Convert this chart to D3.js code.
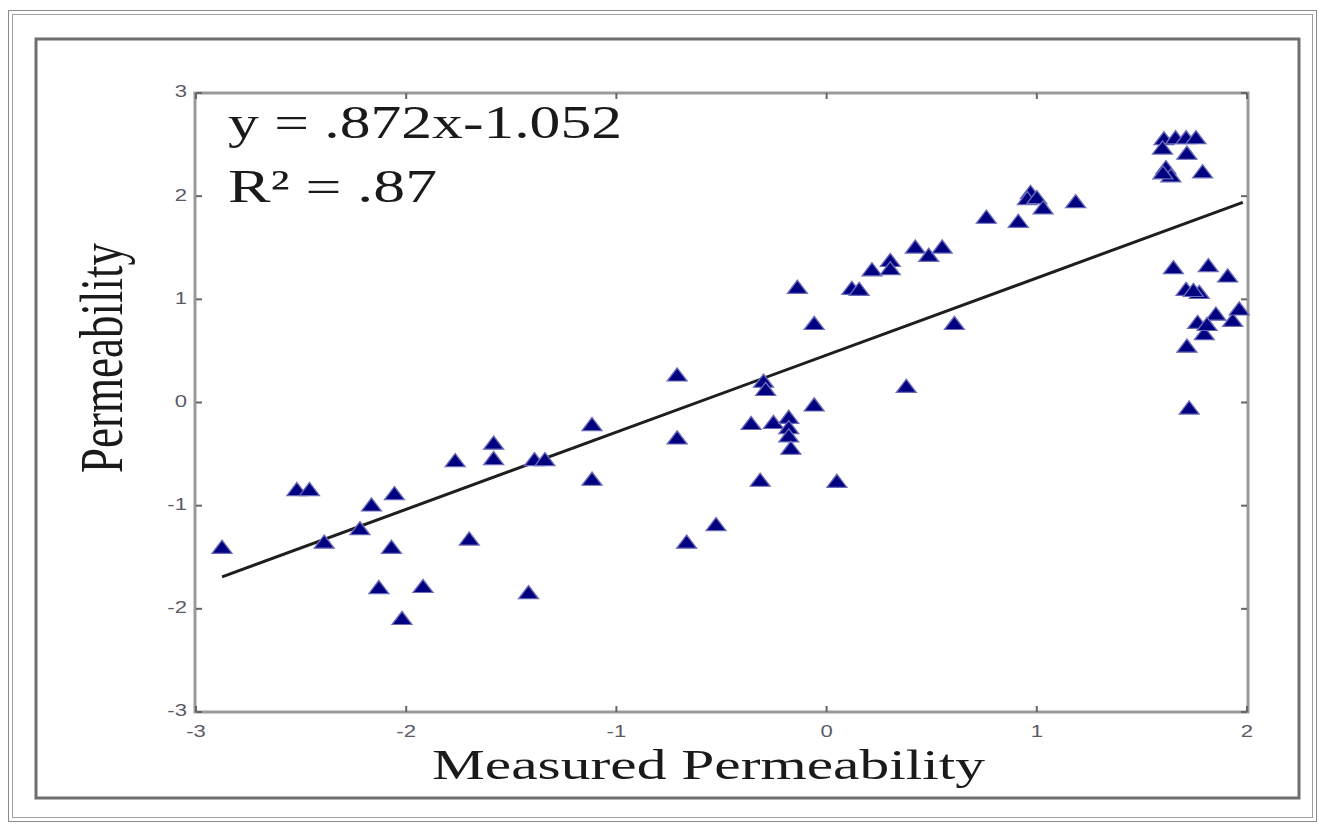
<!DOCTYPE html>
<html><head><meta charset="utf-8">
<script src="https://cdn.jsdelivr.net/npm/d3@7"></script>
<style>html,body{margin:0;padding:0;background:#fff;}svg{display:block;}</style>
</head><body>
<svg id="c" width="1319" height="824"></svg>
<script>
// ---- data ----
const measured = [-2.876,-2.52,-2.46,-2.39,-2.22,-2.165,-2.056,-2.07,-2.13,-1.92,-2.02,-1.767,-1.584,-1.584,-1.70,-1.39,-1.34,-1.418,-1.116,-1.116,
  -0.711,-0.30,-0.29,-0.059,-0.139,0.12,0.155,0.216,0.303,0.303,0.422,0.486,0.55,0.76,0.608,0.379,-0.711,-0.059,-0.359,-0.253,
  -0.18,-0.18,-0.18,-0.17,-0.316,0.049,-0.526,-0.666,0.912,0.97,0.955,1.0,1.03,1.185,
  1.605,1.66,1.71,1.757,1.598,1.714,1.614,1.638,1.60,1.789,
  1.65,1.816,1.908,1.71,1.773,1.745,1.765,1.852,1.932,1.963,1.797,1.714,1.725,1.81];
const predicted = [-1.41,-0.85,-0.85,-1.36,-1.23,-1.00,-0.89,-1.41,-1.80,-1.79,-2.10,-0.57,-0.40,-0.55,-1.33,-0.56,-0.56,-1.85,-0.22,-0.75,
  0.26,0.20,0.12,0.76,1.11,1.10,1.09,1.28,1.37,1.29,1.50,1.42,1.50,1.79,0.76,0.15,-0.35,-0.03,-0.21,-0.20,
  -0.15,-0.25,-0.33,-0.45,-0.76,-0.77,-1.19,-1.36,1.75,2.03,1.97,1.98,1.88,1.94,
  2.55,2.56,2.56,2.56,2.46,2.41,2.27,2.19,2.22,2.23,
  1.30,1.32,1.22,1.09,1.06,1.08,0.77,0.85,0.79,0.90,0.66,0.54,-0.06,0.75];
const fitX = [-2.876, 1.98];
const fitY = [-1.69, 1.94];
const xTicks = [-3,-2,-1,0,1,2];
const yTicks = [-3,-2,-1,0,1,2,3];
const eqText = "y = .872x-1.052";
const r2Text = "R\u00B2 = .87";
const xTitle = "Measured Permeability";
const yTitle = "Permeability";

// ---- drawing ----
const svg = d3.select("#c");
const x = d3.scaleLinear().domain([-3,2]).range([196,1247]);
const y = d3.scaleLinear().domain([-3,3]).range([712,93]);

// outer double frame
svg.append("rect").attr("x",8.5).attr("y",10.5).attr("width",1308).attr("height",811)
  .attr("fill","none").attr("stroke","#8a8a8a").attr("stroke-width",1);
svg.append("rect").attr("x",12.5).attr("y",14.5).attr("width",1300).attr("height",803)
  .attr("fill","none").attr("stroke","#a0a0a0").attr("stroke-width",1);
// middle frame
svg.append("rect").attr("x",36).attr("y",39).attr("width",1263).attr("height",759)
  .attr("fill","none").attr("stroke","#6e6e6e").attr("stroke-width",3);

// plot box
const [x0,x1] = x.range(), [y0,y1] = [y(3), y(-3)];
svg.append("rect").attr("x",x0-1).attr("y",y0).attr("width",x1-x0+2).attr("height",y1-y0)
  .attr("fill","none").attr("stroke","#9a9a9a").attr("stroke-width",3);

const tk = 6;
// x ticks (bottom & top, inward)
const gx = svg.append("g");
xTicks.forEach(t=>{
  gx.append("line").attr("x1",x(t)).attr("x2",x(t)).attr("y1",y1).attr("y2",y1-tk).attr("stroke","#666").attr("stroke-width",2);
  gx.append("line").attr("x1",x(t)).attr("x2",x(t)).attr("y1",y0).attr("y2",y0+tk).attr("stroke","#666").attr("stroke-width",2);
  gx.append("text").attr("transform",`translate(${x(t)},${733}) scale(1.3,1)`)
    .attr("text-anchor","middle").attr("dominant-baseline","middle")
    .attr("font-family","Liberation Sans, Arial, sans-serif").attr("font-size",17).attr("fill","#5a5a66")
    .text(t);
});
const gy = svg.append("g");
yTicks.forEach(t=>{
  gy.append("line").attr("x1",x0).attr("x2",x0+tk).attr("y1",y(t)).attr("y2",y(t)).attr("stroke","#666").attr("stroke-width",2);
  gy.append("line").attr("x1",x1).attr("x2",x1-tk).attr("y1",y(t)).attr("y2",y(t)).attr("stroke","#666").attr("stroke-width",2);
  gy.append("text").attr("transform",`translate(${187},${y(t)}) scale(1.3,1)`)
    .attr("text-anchor","end").attr("dominant-baseline","middle")
    .attr("font-family","Liberation Sans, Arial, sans-serif").attr("font-size",17).attr("fill","#5a5a66")
    .text(t);
});

// regression line
svg.append("line").attr("x1",x(fitX[0])).attr("y1",y(fitY[0])).attr("x2",x(fitX[1])).attr("y2",y(fitY[1]))
  .attr("stroke","#1e1e1e").attr("stroke-width",3);

// points (triangles)
const tri = d3.symbol().type(d3.symbolTriangle).size(110);
svg.append("g").selectAll("path").data(measured.map((m,i)=>[m,predicted[i]])).join("path")
  .attr("d", tri)
  .attr("transform", d=>`translate(${x(d[0])},${y(d[1])+1}) scale(1.25,0.95)`)
  .attr("fill","#000080").attr("stroke","#6a6ab8").attr("stroke-width",1.2);

// equation texts
svg.append("text").attr("x",228).attr("y",138).attr("font-family","Liberation Serif, Times New Roman, serif")
  .attr("font-size",46).attr("fill","#1a1a1a").attr("textLength",394).attr("lengthAdjust","spacingAndGlyphs").text(eqText);
svg.append("text").attr("x",228).attr("y",202).attr("font-family","Liberation Serif, Times New Roman, serif")
  .attr("font-size",46).attr("fill","#1a1a1a").attr("textLength",209).attr("lengthAdjust","spacingAndGlyphs").text(r2Text);

// axis titles
svg.append("text").attr("x",432).attr("y",779).attr("font-family","Liberation Serif, Times New Roman, serif")
  .attr("font-size",42).attr("fill","#1a1a1a").attr("textLength",553).attr("lengthAdjust","spacingAndGlyphs").text(xTitle);
svg.append("text").attr("transform","translate(122,358) scale(1.36,1) rotate(-90)")
  .attr("text-anchor","middle").attr("font-family","Liberation Serif, Times New Roman, serif")
  .attr("font-size",45).attr("fill","#1a1a1a").text(yTitle);
</script>
</body></html>
